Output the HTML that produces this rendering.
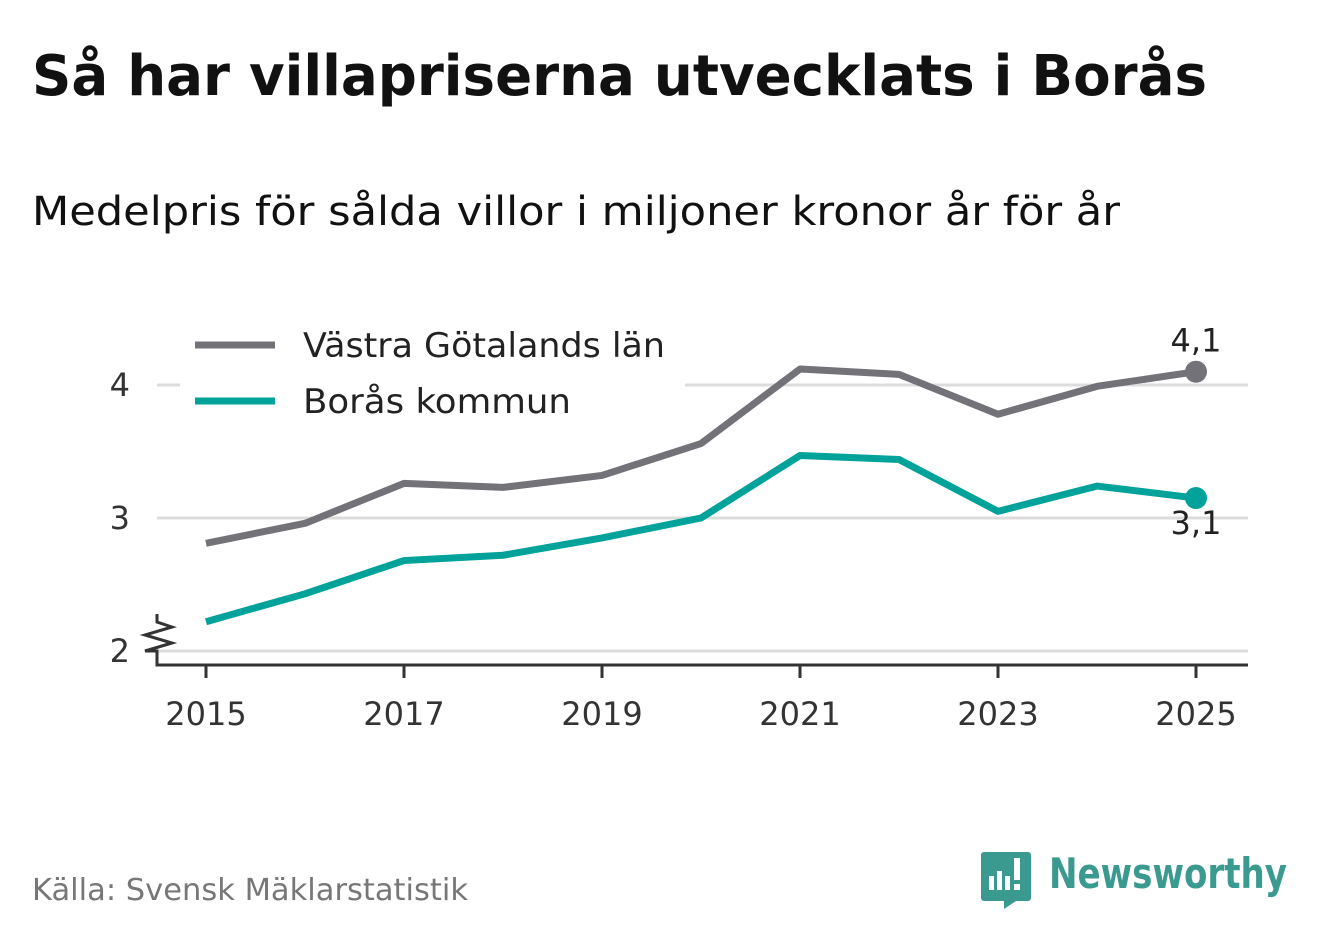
<!DOCTYPE html>
<html><head><meta charset="utf-8"><style>
html,body{margin:0;padding:0;background:#fff;}
svg{display:block;font-family:"DejaVu Sans","Liberation Sans",sans-serif;}
</style></head><body>
<svg width="1322" height="939" viewBox="0 0 1322 939">
<text x="32" y="95" font-size="56" font-weight="bold" fill="#111" textLength="1175" lengthAdjust="spacingAndGlyphs">Så har villapriserna utvecklats i Borås</text>
<text x="32" y="225" font-size="40" fill="#111" textLength="1088" lengthAdjust="spacingAndGlyphs">Medelpris för sålda villor i miljoner kronor år för år</text>
<g id="grid"></g>
<g id="axes"></g>
<rect x="180" y="322" width="505" height="100" fill="#fff"/>
<g>
<line x1="195" y1="345" x2="275" y2="345" stroke="#737278" stroke-width="7"/>
<text x="303" y="357" font-size="34" fill="#222" textLength="362" lengthAdjust="spacingAndGlyphs">Västra Götalands län</text></g>
<g>
<line x1="195" y1="401" x2="275" y2="401" stroke="#00a29a" stroke-width="7"/>
<text x="303" y="413" font-size="34" fill="#222" textLength="268" lengthAdjust="spacingAndGlyphs">Borås kommun</text></g>
<g id="series"></g>
<text x="32" y="900" font-size="30" fill="#777" textLength="436" lengthAdjust="spacingAndGlyphs">Källa: Svensk Mäklarstatistik</text>
<g>
<path d="M984 852 h44 a3 3 0 0 1 3 3 v43 a3 3 0 0 1 -3 3 h-12 l-12 8 v-8 h-20 a3 3 0 0 1 -3 -3 v-43 a3 3 0 0 1 3 -3z" fill="#3a9a90"/>
<rect x="989" y="876" width="5" height="14" fill="#fff"/><rect x="997" y="871" width="5" height="19" fill="#fff"/><rect x="1005" y="876" width="5" height="14" fill="#fff"/><rect x="1014" y="858" width="6" height="22" fill="#fff"/><rect x="1014" y="884" width="6" height="6" fill="#fff"/>
<text x="1049" y="888" font-size="42" font-weight="bold" fill="#3a9a90" textLength="238" lengthAdjust="spacingAndGlyphs">Newsworthy</text></g>
<script>
var years=[2015,2016,2017,2018,2019,2020,2021,2022,2023,2024,2025];
var vastra=[2.81,2.96,3.26,3.23,3.32,3.56,4.12,4.08,3.78,3.99,4.10];
var boras=[2.22,2.43,2.68,2.72,2.85,3.00,3.47,3.44,3.05,3.24,3.15];
var yTicks=[2,3,4];
var xTicks=[2015,2017,2019,2021,2023,2025];
var endLabels=["4,1","3,1"];
var NS="http://www.w3.org/2000/svg";
function X(v){return 206+(v-2015)*99;}
function Y(v){return 651-(v-2)*133;}
function mk(t,a,p){var e=document.createElementNS(NS,t);for(var k in a)e.setAttribute(k,a[k]);p.appendChild(e);return e;}
var grid=document.getElementById('grid'),axes=document.getElementById('axes'),ser=document.getElementById('series');
yTicks.forEach(function(t){
 var l=mk('line',{x1:157,x2:1248,y1:Y(t),y2:Y(t),stroke:'#dcdcdc','stroke-width':3},grid);
 
 
 var tx=mk('text',{x:130,y:Y(t)+11,'font-size':32,fill:'#333','text-anchor':'end'},axes);
 tx.textContent=t;
 
 
});
var ax=mk('path',{d:'M157 614 v8 l15 5 l-27 8 l27 8 l-27 8 h12 v14 h1091',fill:'none',stroke:'#333','stroke-width':3},axes);


xTicks.forEach(function(t){
 mk('line',{x1:X(t),x2:X(t),y1:665,y2:678,stroke:'#333','stroke-width':3},axes);
 var tx=mk('text',{x:X(t),y:725,'font-size':32,fill:'#333','text-anchor':'middle'},axes);
 tx.textContent=t;
 
 
});
function line(vals,col,name,lab,ly){
 var d=vals.map(function(v,i){return (i?'L':'M')+X(years[i])+' '+Y(v);}).join(' ');
 var p=mk('path',{d:d,fill:'none',stroke:col,'stroke-width':7,'stroke-linejoin':'round'},ser);
 
 
 var n=vals.length-1;
 var c=mk('circle',{cx:X(years[n]),cy:Y(vals[n]),r:11,fill:col},ser);
 
 
 var t=mk('text',{x:X(years[n]),y:Y(vals[n])+ly,'font-size':32,fill:'#222','text-anchor':'middle'},ser);
 t.textContent=lab;
 
 
}
line(vastra,'#737278','vastra',endLabels[0],-20);
line(boras,'#00a29a','boras',endLabels[1],36);
</script>
</svg>
</body></html>
